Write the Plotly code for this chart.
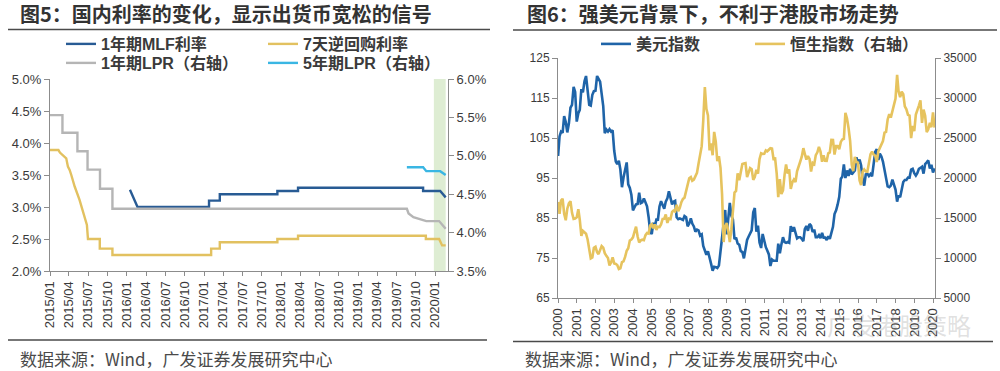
import pandas as pd
import plotly.graph_objects as go

# ---------------- Figure 5 data (rates, %) ----------------
mlf_dates = ["2016-01-15", "2016-02-20", "2017-01-24", "2017-01-24", "2017-03-16", "2017-03-16",
             "2017-12-14", "2017-12-14", "2018-03-22", "2018-03-22", "2019-11-05", "2019-11-05",
             "2020-01-25", "2020-02-20"]
mlf_vals = [3.27, 3.00, 3.00, 3.10, 3.10, 3.20, 3.20, 3.25, 3.25, 3.30, 3.30, 3.25, 3.25, 3.15]

repo_dates = ["2015-01-01", "2015-02-10", "2015-02-17", "2015-03-03", "2015-03-19", "2015-03-27",
              "2015-04-04", "2015-04-12", "2015-04-28", "2015-05-21", "2015-06-14", "2015-06-25",
              "2015-06-30", "2015-08-25", "2015-08-25", "2015-10-24", "2015-10-24", "2017-02-03",
              "2017-02-03", "2017-03-16", "2017-03-16", "2017-12-14", "2017-12-14", "2018-03-22",
              "2018-03-22", "2019-11-18", "2019-11-18", "2020-01-20", "2020-02-03", "2020-02-20"]
repo_vals = [3.89, 3.89, 3.85, 3.81, 3.76, 3.63, 3.58, 3.50, 3.32, 3.11, 2.85, 2.72,
             2.50, 2.50, 2.35, 2.35, 2.25, 2.25, 2.35, 2.35, 2.45, 2.45, 2.50, 2.50,
             2.55, 2.55, 2.50, 2.50, 2.40, 2.40]

lpr1_dates = ["2015-01-01", "2015-03-01", "2015-03-01", "2015-05-11", "2015-05-11", "2015-06-28",
              "2015-06-28", "2015-08-26", "2015-08-26", "2015-10-24", "2015-10-24", "2019-08-20",
              "2019-08-28", "2019-09-20", "2019-11-20", "2020-01-20", "2020-02-20"]
lpr1_vals = [5.53, 5.53, 5.30, 5.30, 5.06, 5.06, 4.82, 4.82, 4.57, 4.57, 4.31, 4.31,
             4.25, 4.20, 4.15, 4.15, 4.05]

lpr5_dates = ["2019-08-20", "2019-11-05", "2019-11-20", "2020-01-25", "2020-02-20"]
lpr5_vals = [4.85, 4.85, 4.80, 4.80, 4.75]

# ---------------- Figure 6 data ----------------
# start point, then month-end readings Jan 2000 ... Jan 2020
dxy_start = 100.5
dxy_monthly = [
    105.4, 106.6, 106.3, 110.5, 109.0, 106.4, 108.6, 112.6, 113.3, 117.8, 116.5, 109.1,  # 2000
    111.2, 112.0, 117.2, 116.4, 119.2, 120.5, 116.7, 113.3, 113.1, 115.8, 116.7, 116.8,  # 2001
    120.5, 119.6, 119.1, 116.1, 113.0, 106.2, 107.1, 106.6, 107.2, 106.6, 106.9, 101.8,  # 2002
    99.1, 98.5, 99.3, 97.1, 92.7, 95.1, 97.5, 98.9, 93.4, 92.5, 90.8, 86.9,              # 2003
    87.7, 88.4, 88.5, 91.3, 88.7, 88.9, 89.9, 89.0, 87.9, 85.2, 81.6, 81.0,              # 2004
    83.8, 82.9, 84.6, 84.6, 87.9, 89.2, 88.2, 87.3, 89.1, 89.9, 91.7, 90.0,              # 2005
    88.4, 89.1, 89.3, 85.2, 84.7, 84.9, 84.7, 84.5, 85.5, 85.2, 82.9, 83.6,              # 2006
    84.9, 83.6, 82.9, 81.6, 82.1, 81.9, 80.6, 80.9, 78.0, 76.7, 75.8, 76.7,              # 2007
    75.4, 73.6, 71.8, 72.8, 72.7, 72.5, 73.1, 77.1, 79.3, 85.0, 87.0, 80.9,              # 2008
    86.3, 88.8, 85.6, 84.6, 79.7, 80.1, 78.6, 78.3, 76.7, 76.5, 74.9, 77.9,              # 2009
    79.5, 80.3, 81.1, 81.9, 86.4, 87.5, 81.6, 83.1, 78.9, 77.5, 81.0, 79.0,              # 2010
    77.7, 76.9, 75.9, 73.0, 74.6, 74.3, 74.3, 74.3, 78.6, 76.2, 78.4, 80.2,              # 2011
    79.0, 78.8, 79.0, 78.8, 83.0, 81.6, 82.7, 81.2, 79.9, 80.2, 80.2, 79.8,              # 2012
    79.2, 82.2, 83.0, 81.8, 83.5, 83.1, 81.5, 82.1, 80.2, 80.2, 80.7, 80.0,              # 2013
    81.3, 80.1, 80.1, 79.5, 80.4, 79.8, 81.5, 82.8, 86.0, 86.9, 88.4, 90.3,              # 2014
    94.8, 95.3, 98.4, 95.0, 96.9, 95.5, 97.3, 95.9, 96.4, 96.9, 100.2, 98.6,             # 2015
    99.6, 98.2, 94.6, 93.1, 95.9, 96.1, 95.5, 96.0, 95.4, 98.4, 101.5, 102.2,            # 2016
    99.5, 101.1, 100.4, 99.1, 97.0, 95.6, 92.9, 92.7, 93.1, 94.6, 93.1, 92.1,            # 2017
    89.1, 90.6, 90.2, 91.8, 94.0, 94.5, 94.5, 95.1, 95.1, 97.1, 97.3, 96.2,              # 2018
    95.6, 96.2, 97.3, 97.5, 97.8, 96.1, 98.5, 98.9, 99.4, 97.4, 98.3, 96.4,              # 2019
    97.4,                                                                                # 2020
]
hsi_start = 17000
hsi_monthly = [
    15532, 17169, 17407, 15519, 14713, 16155, 16841, 17097, 15648, 14895, 14937, 15096,  # 2000
    16102, 14788, 12761, 13386, 13174, 13043, 12317, 11090, 9951, 10073, 11279, 11397,   # 2001
    10725, 10482, 11033, 11497, 11301, 10599, 10268, 9998, 9072, 9441, 10069, 9321,      # 2002
    9258, 9122, 8634, 8717, 9487, 9577, 10135, 10909, 11230, 12190, 12318, 12576,        # 2003
    13289, 13907, 12682, 11942, 12198, 12286, 12239, 12850, 13120, 13054, 14060, 14230,  # 2004
    13721, 14196, 13516, 13909, 13868, 14201, 14880, 14904, 15429, 14387, 14937, 14876,  # 2005
    15753, 15918, 15805, 16661, 15857, 16267, 16971, 17392, 17543, 18324, 18960, 19964,  # 2006
    20106, 19651, 19801, 20318, 20635, 21773, 23184, 23984, 27142, 31352, 28643, 27812,  # 2007
    23456, 24332, 22849, 25755, 24533, 22102, 22731, 21262, 18016, 12000, 13888, 14387,  # 2008
    13278, 12000, 13576, 15521, 18171, 18378, 20573, 19724, 20955, 21753, 21822, 21873,  # 2009
    20122, 20609, 21239, 21108, 19765, 20129, 21030, 20536, 22359, 23096, 23007, 23035,  # 2010
    23447, 23338, 23528, 23721, 23684, 22398, 22440, 20535, 17592, 19864, 17989, 18434,  # 2011
    20390, 21680, 20556, 21094, 18630, 19441, 19796, 19483, 20840, 21642, 22030, 22657,  # 2012
    23730, 23020, 22300, 22737, 22392, 20803, 21883, 21731, 22860, 23206, 23881, 23306,  # 2013
    22035, 22837, 22151, 22134, 23082, 23191, 24757, 24742, 22933, 23998, 23987, 23605,  # 2014
    24507, 24823, 24901, 28133, 27424, 26250, 24636, 21671, 20846, 22640, 21996, 21914,  # 2015
    19683, 19112, 20777, 21067, 20815, 20794, 21891, 22977, 23297, 22935, 22790, 22001,  # 2016
    23361, 23741, 24112, 24615, 25661, 25765, 27324, 27970, 27554, 28246, 29177, 29919,  # 2017
    32887, 30845, 30093, 30808, 30469, 28955, 28583, 27889, 27789, 24980, 26507, 25846,  # 2018
    27942, 28633, 29051, 29699, 26901, 28543, 27778, 25725, 26092, 26907, 26346, 28190,  # 2019
    26313,                                                                               # 2020
]
monthly_dates = list(pd.date_range("2000-01-31", periods=len(dxy_monthly), freq="ME"))
idx_dates = [pd.Timestamp("2000-01-03")] + monthly_dates
dxy_vals = [dxy_start] + dxy_monthly
hsi_vals = [hsi_start] + hsi_monthly

# ---------------- text ----------------
title5 = "图5：国内利率的变化，显示出货币宽松的信号"
title6 = "图6：强美元背景下，不利于港股市场走势"
source_txt = "数据来源：Wind，广发证券发展研究中心"
names5 = ["1年期MLF利率", "7天逆回购利率", "1年期LPR（右轴）", "5年期LPR（右轴）"]
names6 = ["美元指数", "恒生指数（右轴）"]
y5_left_ticks = [2.0, 2.5, 3.0, 3.5, 4.0, 4.5, 5.0]
y5_left_text = ["2.0%", "2.5%", "3.0%", "3.5%", "4.0%", "4.5%", "5.0%"]
y5_right_ticks = [3.5, 4.0, 4.5, 5.0, 5.5, 6.0]
y5_right_text = ["3.5%", "4.0%", "4.5%", "5.0%", "5.5%", "6.0%"]
y6_left_ticks = [65, 75, 85, 95, 105, 115, 125]
y6_right_ticks = [5000, 10000, 15000, 20000, 25000, 30000, 35000]
y6_right_text = ["5000", "10000", "15000", "20000", "25000", "30000", "35000"]

W, H = 1000, 371
def px(v):
    return v / W
def py(v):
    return 1 - v / H

FONT = "Liberation Sans, Arial, Noto Sans CJK SC"
CJK = "Noto Sans CJK SC, sans-serif"
AX = "#8c8c8c"
TXT = "#3a3a3a"

fig = go.Figure()

fig.add_trace(go.Scatter(x=mlf_dates, y=mlf_vals, name=names5[0], mode="lines",
                         line=dict(color="#285b94", width=2.4), xaxis="x", yaxis="y", legend="legend"))
fig.add_trace(go.Scatter(x=repo_dates, y=repo_vals, name=names5[1], mode="lines",
                         line=dict(color="#e2c160", width=2.4), xaxis="x", yaxis="y", legend="legend"))
fig.add_trace(go.Scatter(x=lpr1_dates, y=lpr1_vals, name=names5[2], mode="lines",
                         line=dict(color="#b5b5b5", width=2.4), xaxis="x", yaxis="y2", legend="legend2"))
fig.add_trace(go.Scatter(x=lpr5_dates, y=lpr5_vals, name=names5[3], mode="lines",
                         line=dict(color="#3ab6e3", width=2.4), xaxis="x", yaxis="y2", legend="legend2",
                         legendwidth=170))

fig.add_trace(go.Scatter(x=idx_dates, y=dxy_vals, name=names6[0], mode="lines",
                         line=dict(color="#1f64a8", width=2.6), xaxis="x2", yaxis="y3", legend="legend3"))
fig.add_trace(go.Scatter(x=idx_dates, y=hsi_vals, name=names6[1], mode="lines",
                         line=dict(color="#e6c35e", width=2.6), xaxis="x2", yaxis="y4", legend="legend3",
                         legendwidth=150))

tickfont = dict(family=FONT, size=13, color=TXT)
tickfont_small = dict(family=FONT, size=12, color=TXT)
common_y = dict(showgrid=False, zeroline=False, showline=True, linecolor=AX, linewidth=1,
                ticks="outside", ticklen=5, tickcolor=AX, automargin=False)
common_x = dict(type="date", tickangle=-90, showgrid=False, zeroline=False, showline=True,
                linecolor=AX, ticks="outside", ticklen=4, tickcolor=AX, tickfont=tickfont,
                automargin=False)

legend_common = dict(orientation="h", xanchor="left", yanchor="middle", xref="container",
                     yref="container", bgcolor="rgba(0,0,0,0)", borderwidth=0,
                     itemclick=False, itemdoubleclick=False)

fig.update_layout(
    width=W, height=H, margin=dict(l=0, r=0, t=0, b=0, autoexpand=False),
    paper_bgcolor="white", plot_bgcolor="white",
    xaxis=dict(domain=[px(50), px(448)], anchor="y",
               range=["2015-01-01", "2020-03-02"], tick0="2015-01-01", dtick="M3",
               tickformat="%Y/%m", **common_x),
    yaxis=dict(domain=[py(271), py(79)], range=[2.0, 5.0], tickvals=y5_left_ticks,
               ticktext=y5_left_text, tickfont=tickfont, **common_y),
    yaxis2=dict(overlaying="y", side="right", anchor="x", range=[3.5, 6.0], tickvals=y5_right_ticks,
                ticktext=y5_right_text, tickfont=tickfont, **common_y),
    xaxis2=dict(domain=[px(558), px(935)], anchor="y3",
                range=["2000-01-01", "2020-02-08"], tick0="2000-01-01", dtick="M12",
                tickformat="%Y", **common_x),
    yaxis3=dict(domain=[py(298), py(58)], anchor="x2", range=[65, 125], tickvals=y6_left_ticks,
                tickfont=tickfont_small, **common_y),
    yaxis4=dict(overlaying="y3", side="right", anchor="x2", range=[5000, 35000],
                tickvals=y6_right_ticks, ticktext=y6_right_text, tickfont=tickfont_small, **common_y),
    legend=dict(x=px(61), y=py(44), entrywidth=157,
                font=dict(family=FONT, size=16, color=TXT, weight="bold"), **legend_common),
    legend2=dict(x=px(61), y=py(63), entrywidth=157,
                 font=dict(family=FONT, size=16, color=TXT, weight="bold"), **legend_common),
    legend3=dict(x=px(596), y=py(44), entrywidth=109,
                 font=dict(family=FONT, size=16, color=TXT, weight="bold"), **legend_common),
    showlegend=True,
)

# shaded recent period on figure 5
fig.add_shape(type="rect", xref="x", yref="y domain", x0="2019-12-26", x1="2020-02-20",
              y0=0, y1=1, fillcolor="#deedd3", line=dict(width=0), layer="below")

# header / footer rules
for x0, x1, y in [(8, 490, 29.5), (513, 997, 30), (8, 487, 340), (513, 993, 341.5)]:
    fig.add_shape(type="line", xref="paper", yref="paper", x0=px(x0), x1=px(x1), y0=py(y), y1=py(y),
                  line=dict(color="#4a4a4a", width=1.6))

# titles
for txt, x in [(title5, 18), (title6, 525)]:
    fig.add_annotation(text=txt, xref="paper", yref="paper", x=px(x), y=py(14),
                       xanchor="left", yanchor="middle", showarrow=False,
                       font=dict(family=CJK, size=20, color="#333333", weight="bold"))
# sources
for x in [18, 523]:
    fig.add_annotation(text=source_txt, xref="paper", yref="paper", x=px(x), y=py(358),
                       xanchor="left", yanchor="middle", showarrow=False,
                       font=dict(family=CJK, size=17, color="#4a4a4a"))
# watermark
fig.add_annotation(text="广发港股策略", xref="paper", yref="paper", x=px(825), y=py(324),
                   xanchor="left", yanchor="middle", showarrow=False,
                   font=dict(family=CJK, size=24, color="rgba(150,150,150,0.3)"))

fig.write_html("out.html", config={"displayModeBar": False},
               post_script="document.body.style.margin='0px';document.body.style.overflow='hidden';")
